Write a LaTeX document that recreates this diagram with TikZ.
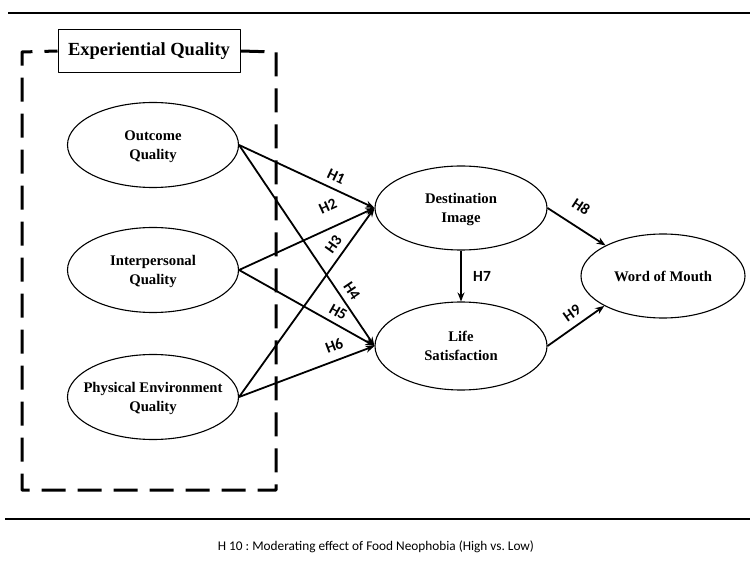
\documentclass[tikz,border=0pt]{standalone}
\usepackage{fontspec}
\setmainfont{Liberation Serif}
\newfontfamily\calfont{Carlito}
\usetikzlibrary{shapes.geometric,arrows.meta}
\frenchspacing
\tikzset{
 construct/.style={ellipse,draw,line width=1.1pt,inner sep=0pt,text depth=0pt,minimum width=171pt,minimum height=85pt,align=center,font=\fontsize{14.7}{19}\selectfont\bfseries},
 path/.style={->,line width=1.8pt},
 hyp/.style={sloped,above=4pt,font=\fontsize{15.5}{17}\selectfont\calfont\bfseries,inner sep=2pt},
}
\begin{document}
\begin{tikzpicture}[>={Stealth[length=9pt,width=7pt]},line join=round,x=1pt,y=-1pt]
 \useasboundingbox (0,0) rectangle (750,561);
 % rules and footer
 \draw[line width=1.6pt] (8,13) -- (750,13);
 \draw[line width=1.6pt] (5,519) -- (750,519);
 \node[font=\fontsize{13.3}{16}\selectfont\calfont] (foot) at (376,547) {H 10 : Moderating effect of Food Neophobia (High vs. Low)};
 % experiential quality group
 \node[draw,line width=1pt,fill=white,minimum width=182pt,minimum height=43pt,font=\fontsize{18.5}{21}\selectfont\bfseries] (eq) at (149,51) {Experiential Quality};
 \draw[line width=3pt,dash pattern=on 24pt off 12pt] (eq.east) -- (276,52) -- (276,490) -- (22,490) -- (22,52) -- (eq.west);
 % constructs
 \node[construct] (oq) at (153,145) {Outcome\\Quality};
 \node[construct] (ipq) at (153,270) {Interpersonal\\Quality};
 \node[construct,inner xsep=-30pt] (peq) at (153,397) {Physical Environment\\Quality};
 \node[construct,minimum width=172pt,minimum height=84pt] (di) at (461,208) {Destination\\Image};
 \node[construct,minimum width=172pt,minimum height=88pt] (ls) at (461,346) {Life\\Satisfaction};
 \node[construct,minimum width=164pt,minimum height=84pt] (wom) at (663,276) {Word of Mouth};
 % hypotheses
 \draw[path] (oq.east) -- node[hyp,pos=.68]{H1} (di.west);
 \draw[path] (ipq.east) -- node[hyp,pos=.72,above=9pt]{H2} (di.west);
 \draw[path] (peq.east) -- node[hyp,pos=.77]{H3} (di.west);
 \draw[path] (oq.east) -- node[hyp,pos=.76]{H4} (ls.west);
 \draw[path] (ipq.east) -- node[hyp,pos=.69,above=0pt]{H5} (ls.west);
 \draw[path] (peq.east) -- node[hyp,pos=.74,above=2pt]{H6} (ls.west);
 \draw[path] (di.south) -- node[right=8pt,font=\fontsize{15.5}{17}\selectfont\calfont\bfseries]{H7} (ls.north);
 \draw[path] (di.east) -- node[hyp,pos=.40,above=7pt]{H8} (wom.152);
 \draw[path] (ls.east) -- node[hyp,pos=.56,above=1pt]{H9} (wom.207);
\end{tikzpicture}
\end{document}
